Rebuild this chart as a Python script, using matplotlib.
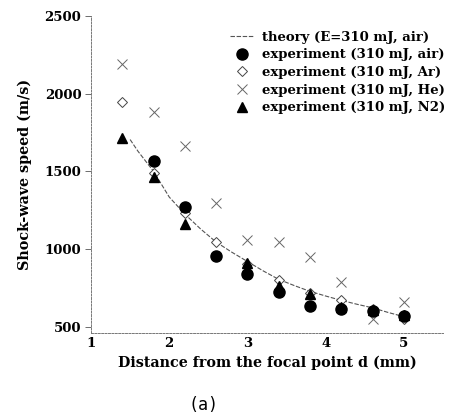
import matplotlib
matplotlib.use("Agg")
import matplotlib.pyplot as plt

# Data
d_theory = [1.5, 1.6, 1.8, 2.0, 2.2, 2.4, 2.6, 2.8, 3.0, 3.2, 3.4, 3.6, 3.8, 4.0, 4.2, 4.4, 4.6, 4.8, 5.0]
v_theory = [1705, 1630, 1500, 1335, 1225, 1130, 1045, 980, 920, 860, 805, 765, 728, 698, 670, 645, 622, 592, 565]

d_air = [1.8, 2.2, 2.6, 3.0, 3.4, 3.8, 4.2, 4.6, 5.0]
v_air = [1567, 1271, 956, 840, 724, 634, 615, 602, 569]

d_ar = [1.4, 1.8, 2.2, 2.6, 3.0, 3.4, 3.8, 4.2, 4.6, 5.0]
v_ar = [1947, 1490, 1232, 1046, 905, 801, 715, 672, 615, 548]

d_he = [1.4, 1.8, 2.2, 2.6, 3.0, 3.4, 3.8, 4.2, 4.6, 5.0]
v_he = [2191, 1882, 1663, 1297, 1058, 1046, 946, 788, 550, 660]

d_n2 = [1.4, 1.8, 2.2, 3.0, 3.4, 3.8, 4.2, 4.6, 5.0]
v_n2 = [1715, 1464, 1161, 910, 762, 711, 625, 610, 575]

x_ticks = [1, 2, 3, 4, 5]
y_ticks = [500, 1000, 1500, 2000, 2500]

labels = ["theory (E=310 mJ, air)",
          "experiment (310 mJ, air)",
          "experiment (310 mJ, Ar)",
          "experiment (310 mJ, He)",
          "experiment (310 mJ, N2)"]

serif = ["DejaVu Serif"]
fs = 9.5

fig = plt.figure(figsize=(4.53, 4.19), dpi=100)
ax = fig.add_axes([91/453, 1-333/419, (443-91)/453, (333-16)/419])

ax.plot(d_theory, v_theory, color="#555555", lw=0.8, ls=(0, (4, 1.5)), label=labels[0], zorder=2)
ax.plot(d_air, v_air, ls="none", marker="o", ms=8, color="black", label=labels[1], zorder=3)
ax.plot(d_ar, v_ar, ls="none", marker="D", ms=5.5, mfc="white", mec="#444444", mew=0.7, label=labels[2], zorder=2.5)
ax.plot(d_he, v_he, ls="none", marker="x", ms=6.5, color="#666666", mew=0.7, label=labels[3], zorder=2.5)
ax.plot(d_n2, v_n2, ls="none", marker="^", ms=7, color="black", label=labels[4], zorder=3.5)

ax.set_xlim(1, 5.5)
ax.set_ylim(460, 2500)
ax.set_xticks(x_ticks)
ax.set_yticks(y_ticks)
ax.set_xticklabels([str(t) for t in x_ticks], fontfamily=serif, fontweight="bold", fontsize=fs)
ax.set_yticklabels([str(t) for t in y_ticks], fontfamily=serif, fontweight="bold", fontsize=fs)
ax.tick_params(axis="y", length=4, width=0.6, color="#555555", pad=3)
ax.tick_params(axis="x", length=0, pad=3)

for s in ["top", "right"]:
    ax.spines[s].set_visible(False)
for s in ["left", "bottom"]:
    ax.spines[s].set_color("#777777")
    ax.spines[s].set_linewidth(0.7)
    ax.spines[s].set_linestyle((0, (2, 1.5)))

ax.set_xlabel("Distance from the focal point d (mm)", fontfamily=serif, fontweight="bold", fontsize=10.3, labelpad=4)
ax.set_ylabel("Shock-wave speed (m/s)", fontfamily=serif, fontweight="bold", fontsize=10.3, labelpad=9)

leg = ax.legend(loc="upper right", bbox_to_anchor=(1.02, 0.97), frameon=False,
                prop={"family": serif, "weight": "bold", "size": fs},
                handlelength=1.8, handletextpad=0.6, labelspacing=0.35, borderaxespad=0.0)

fig.text(203/453, 1-405/419, "(a)", ha="center", va="center", fontfamily="DejaVu Sans Mono", fontsize=12)

fig.savefig("out.png", dpi=100)
